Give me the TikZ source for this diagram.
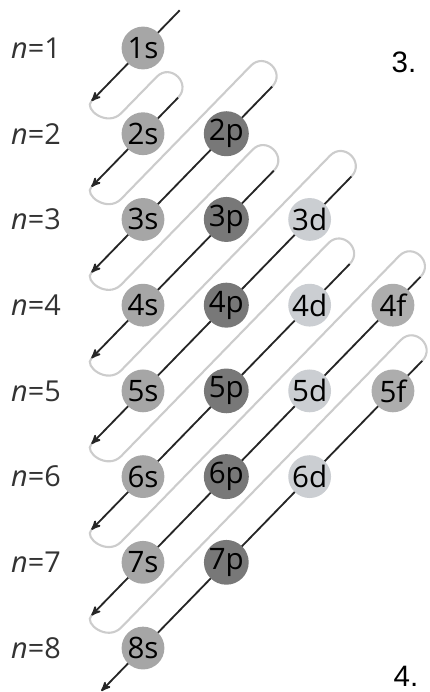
\documentclass[tikz,border=0pt]{standalone}
\usepackage{fontspec}
\setmainfont{Open Sans}
\newfontfamily\headfont{Liberation Sans}
\usepackage{xcolor}
\usepackage{tikz}
\usetikzlibrary{arrows, positioning, calc, backgrounds}

\definecolor{sgray}{HTML}{A6A6A6}
\definecolor{pgray}{HTML}{787878}
\definecolor{dgray}{HTML}{CBCED2}
\definecolor{fgray}{HTML}{ADADAD}

\begin{document}
\begin{tikzpicture}[x=0.025cm, y=-0.025cm, node distance=2.1425cm and 2.0825cm, on grid, >=stealth',
    orbital/.style={circle, inner sep=0pt, minimum size=1.07cm, font=\fontsize{21}{24}\selectfont, text=black},
    sorb/.style={orbital, fill=sgray},
    porb/.style={orbital, fill=pgray},
    dorb/.style={orbital, fill=dgray},
    forb/.style={orbital, fill=fgray},
    shell/.style={font=\fontsize{20.5}{24}\selectfont, text=black!80},
    question/.style={anchor=west, inner sep=1pt, font=\headfont\fontsize{21}{24}\selectfont},
    diag/.style={->, line width=1.3pt, draw=black!85},
    loopline/.style={draw=gray!40, line width=1.5pt}]

    \useasboundingbox (0,0) rectangle (429,692);

    % Nodes
    \node (s1) [sorb] at (143,48) {1s};
    \node (s2) [sorb, below=of s1] {2s};
    \node (s3) [sorb, below=of s2] {3s};
    \node (s4) [sorb, below=of s3] {4s};
    \node (s5) [sorb, below=of s4] {5s};
    \node (s6) [sorb, below=of s5] {6s};
    \node (s7) [sorb, below=of s6] {7s};
    \node (s8) [sorb, below=of s7] {8s};
    \node (p2) [porb, right=of s2] {2p};
    \node (p3) [porb, below=of p2] {3p};
    \node (p4) [porb, below=of p3] {4p};
    \node (p5) [porb, below=of p4] {5p};
    \node (p6) [porb, below=of p5] {6p};
    \node (p7) [porb, below=of p6] {7p};
    \node (d3) [dorb, right=of p3] {3d};
    \node (d4) [dorb, below=of d3] {4d};
    \node (d5) [dorb, below=of d4] {5d};
    \node (d6) [dorb, below=of d5] {6d};
    \node (f4) [forb, right=of d4] {4f};
    \node (f5) [forb, below=of f4] {5f};

    \node (n1) [shell, left=2.675cm of s1] {\textit{n}=1};
    \node (n2) [shell, left=2.675cm of s2] {\textit{n}=2};
    \node (n3) [shell, left=2.675cm of s3] {\textit{n}=3};
    \node (n4) [shell, left=2.675cm of s4] {\textit{n}=4};
    \node (n5) [shell, left=2.675cm of s5] {\textit{n}=5};
    \node (n6) [shell, left=2.675cm of s6] {\textit{n}=6};
    \node (n7) [shell, left=2.675cm of s7] {\textit{n}=7};
    \node (n8) [shell, left=2.675cm of s8] {\textit{n}=8};

    \node (q3) [question] at (390,62) {3.};
    \node (q4) [question] at (392,676) {4.};

    % Ends of the diagonals
    \coordinate (st1) at ($(s1)+(36.7,-37.7)$);
    \coordinate (st2) at ($(s2)+(35,-36)$);
    \coordinate (st3) at ($(p2)+(45.8,-47.1)$);
    \coordinate (st4) at ($(p3)+(47.5,-48.8)$);
    \coordinate (st5) at ($(d3)+(41.7,-42.9)$);
    \coordinate (st6) at ($(d4)+(40,-41.1)$);
    \coordinate (st7) at ($(f4)+(27.5,-28.3)$);
    \coordinate (st8) at ($(f5)+(29.2,-30)$);
    \coordinate (en1) at ($(s1)+(-51.6,53.1)$);
    \coordinate (en2) at ($(s2)+(-51.6,53.1)$);
    \coordinate (en3) at ($(s3)+(-51.6,53.1)$);
    \coordinate (en4) at ($(s4)+(-51.6,53.1)$);
    \coordinate (en5) at ($(s5)+(-51.6,53.1)$);
    \coordinate (en6) at ($(s6)+(-51.6,53.1)$);
    \coordinate (en7) at ($(s7)+(-51.6,53.1)$);
    \coordinate (en8) at ($(s8)+(-41.7,42.9)$);

    % Links
    \begin{scope}[on background layer]
    \draw[loopline] (en1) .. controls +(-8,8) and +(-14,14) .. ($(en1)+(29.7,12.2)$) -- ($(st2)-(21.4,20.8)$) .. controls +(13.9,-14.3) and +(13.9,-14.3) .. (st2);
    \draw[loopline] (en2) .. controls +(-8,8) and +(-14,14) .. ($(en2)+(29.7,12.2)$) -- ($(st3)-(21.4,20.8)$) .. controls +(13.9,-14.3) and +(13.9,-14.3) .. (st3);
    \draw[loopline] (en3) .. controls +(-8,8) and +(-14,14) .. ($(en3)+(29.7,12.2)$) -- ($(st4)-(21.4,20.8)$) .. controls +(13.9,-14.3) and +(13.9,-14.3) .. (st4);
    \draw[loopline] (en4) .. controls +(-8,8) and +(-14,14) .. ($(en4)+(29.7,12.2)$) -- ($(st5)-(21.4,20.8)$) .. controls +(13.9,-14.3) and +(13.9,-14.3) .. (st5);
    \draw[loopline] (en5) .. controls +(-8,8) and +(-14,14) .. ($(en5)+(29.7,12.2)$) -- ($(st6)-(21.4,20.8)$) .. controls +(13.9,-14.3) and +(13.9,-14.3) .. (st6);
    \draw[loopline] (en6) .. controls +(-8,8) and +(-14,14) .. ($(en6)+(29.7,12.2)$) -- ($(st7)-(21.4,20.8)$) .. controls +(13.9,-14.3) and +(13.9,-14.3) .. (st7);
    \draw[loopline] (en7) .. controls +(-8,8) and +(-14,14) .. ($(en7)+(29.7,12.2)$) -- ($(st8)-(21.4,20.8)$) .. controls +(13.9,-14.3) and +(13.9,-14.3) .. (st8);

    \draw[diag] (st1) -- (en1);
    \draw[diag] (st2) -- (en2);
    \draw[diag] (st3) -- (en3);
    \draw[diag] (st4) -- (en4);
    \draw[diag] (st5) -- (en5);
    \draw[diag] (st6) -- (en6);
    \draw[diag] (st7) -- (en7);
    \draw[diag] (st8) -- (en8);
    \end{scope}
\end{tikzpicture}
\end{document}
